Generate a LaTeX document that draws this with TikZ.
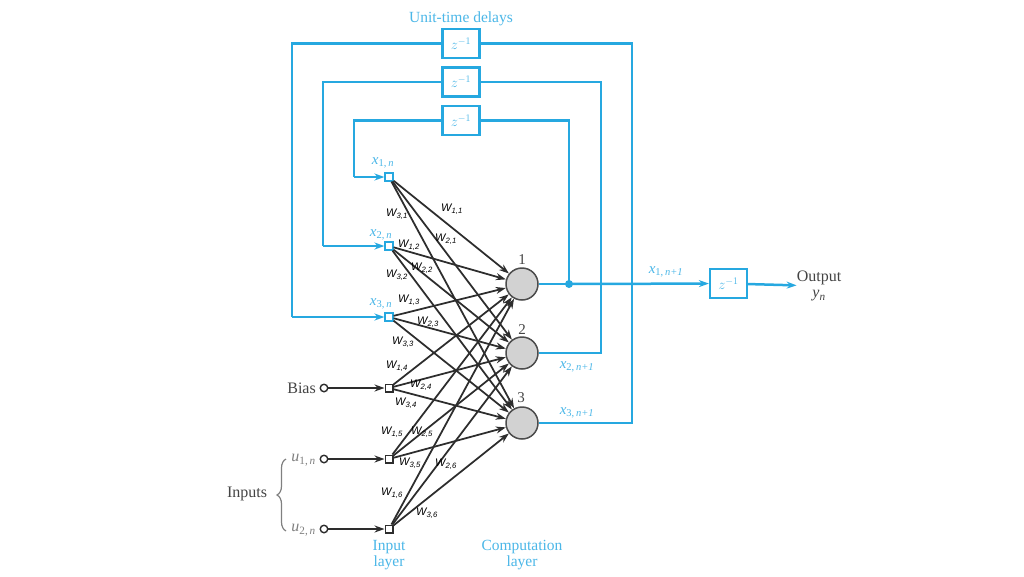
\documentclass[tikz,border=0pt]{standalone}
\usepackage{fontspec}
\setmainfont{Liberation Serif}
\newfontfamily\wfont{Liberation Sans}
\usetikzlibrary{arrows.meta,decorations.pathreplacing,calc}
\definecolor{lblue}{RGB}{38,168,224}
\definecolor{tblue}{RGB}{75,183,232}
\definecolor{dgray}{RGB}{45,45,45}
\definecolor{lgray}{RGB}{68,68,68}
\newcommand\xsub[2]{\textit{x}\textsubscript{#1,\,\textit{#2}}}
\newcommand\wsub[2]{W\textsubscript{#1,#2}}
\begin{document}
\begin{tikzpicture}[x=1pt,y=-1pt,
  bl/.style={draw=lblue,line width=2.5pt},
  blarrow/.style={bl,-{Stealth[length=10pt,width=7pt]}},
  delay/.style={draw=lblue,line width=2.2pt,fill=white,minimum width=37pt,minimum height=29pt,inner sep=0pt,text=tblue,font=\fontsize{14}{14}\selectfont},
  bsq/.style={draw=lblue,line width=1.7pt,fill=white,minimum size=7.5pt,inner sep=0pt},
  ksq/.style={draw=dgray,line width=1.5pt,fill=white,minimum size=7.5pt,inner sep=0pt},
  neuron/.style={circle,draw=gray!60!black,fill=gray!35,line width=1.5pt,minimum size=32pt,inner sep=0pt},
  wire/.style={draw=dgray,line width=1.75pt,-{Stealth[length=10pt,width=7pt]}},
  src/.style={circle,draw=dgray,fill=white,line width=1.4pt,minimum size=7.5pt,inner sep=0pt},
  wl/.style={font=\wfont\itshape\fontsize{11}{11}\selectfont,text=black,inner sep=0pt},
  btxt/.style={text=tblue,font=\fontsize{15.5}{16}\selectfont,align=center,inner sep=0pt},
  xl/.style={text=tblue,font=\fontsize{15}{15}\selectfont,inner sep=0pt},
  ktxt/.style={text=lgray,font=\fontsize{16}{17}\selectfont,align=center,inner sep=0pt},
  numl/.style={text=lgray,font=\fontsize{15}{15}\selectfont,inner sep=0pt}
]
\useasboundingbox (0,0) rectangle (1024,576);
\fill[white] (0,0) rectangle (1024,576);

% delay boxes
\node[btxt] (title) at (461,19) {Unit-time delays};
\node[delay] (d1) at (461,43.5) {$z^{-1}$};
\node[delay] (d2) at (461,82) {$z^{-1}$};
\node[delay] (d3) at (461,120.5) {$z^{-1}$};

% input layer squares
\node[bsq] (x1) at (389,177) {};
\node[bsq] (x2) at (389,246) {};
\node[bsq] (x3) at (389,317) {};
\node[ksq] (xb) at (389,388) {};
\node[ksq] (xu1) at (389,459) {};
\node[ksq] (xu2) at (389,529) {};

% neurons
\node[neuron] (n1) at (522,284) {};
\node[neuron] (n2) at (522,353) {};
\node[neuron] (n3) at (522,423) {};
\node[numl] (l1) at (522,260) {1};
\node[numl] (l2) at (522,330) {2};
\node[numl] (l3) at (521,398) {3};

% connections
\foreach \s in {x1,x2,x3,xb,xu1,xu2}{
  \foreach \t in {n1,n2,n3}{
    \draw[wire] (\s) -- (\t);
  }
}

% feedback loops
\coordinate (c1) at (354,177);
\coordinate (c2) at (323,246);
\coordinate (c3) at (292,317);
\coordinate (j1) at (569,284);
\coordinate (r2) at (601,353);
\coordinate (r3) at (632,423);
\draw[bl] (d3.west) -| (c1);
\draw[blarrow] (c1) -- (x1);
\draw[bl] (d2.west) -| (c2);
\draw[blarrow] (c2) -- (x2);
\draw[bl] (d1.west) -| (c3);
\draw[blarrow] (c3) -- (x3);
\draw[bl] (d3.east) -| (j1);
\draw[bl] (n2.east) -- (r2) |- (d2.east);
\draw[bl] (n3.east) -- (r3) |- (d1.east);
\draw[bl] (n1.east) -- (j1);
\fill[lblue] (j1) circle (4pt);

% output
\node[delay] (od) at (728.5,283.5) {$z^{-1}$};
\node[ktxt] (out) at (819,286) {Output\\[-1pt]\textit{y}\textsubscript{\textit{n}}};
\draw[blarrow] (j1) -- (od);
\draw[blarrow] (od) -- (out);

% blue labels
\node[xl] (lx1) at (383,163) {\xsub{1}{n}};
\node[xl] (lx2) at (381,235) {\xsub{2}{n}};
\node[xl] (lx3) at (381,304) {\xsub{3}{n}};
\node[xl] (ly1) at (666,272) {\xsub{1}{n+1}};
\node[xl] (ly2) at (577,367) {\xsub{2}{n+1}};
\node[xl] (ly3) at (577,413) {\xsub{3}{n+1}};

% bias and inputs
\node[src] (sb) at (324,388) {};
\node[src] (su1) at (324,459) {};
\node[src] (su2) at (324,529) {};
\node[ktxt,anchor=east] (tb) at (316,388) {Bias};
\node[ktxt,anchor=east,text=gray] (tu1) at (316,460) {\textit{u}\textsubscript{1,\,\textit{n}}};
\node[ktxt,anchor=east,text=gray] (tu2) at (316,530) {\textit{u}\textsubscript{2,\,\textit{n}}};
\draw[wire] (sb) -- (xb);
\draw[wire] (su1) -- (xu1);
\draw[wire] (su2) -- (xu2);
\draw[draw=gray,line width=1.2pt,decorate,decoration={brace,amplitude=9pt}] (286,531) -- (286,459);
\node[ktxt] (tin) at (247,494) {Inputs};

% layer labels
\node[btxt] (til) at (389,555) {Input\\layer};
\node[btxt] (tcl) at (522,555) {Computation\\layer};

% weight labels
\node[wl] at (452,209) {\wsub{1}{1}};
\node[wl] at (397,214) {\wsub{3}{1}};
\node[wl] at (446,239) {\wsub{2}{1}};
\node[wl] at (409,245) {\wsub{1}{2}};
\node[wl] at (422,268) {\wsub{2}{2}};
\node[wl] at (397,275) {\wsub{3}{2}};
\node[wl] at (409,300) {\wsub{1}{3}};
\node[wl] at (428,322) {\wsub{2}{3}};
\node[wl] at (403,342) {\wsub{3}{3}};
\node[wl] at (397,366) {\wsub{1}{4}};
\node[wl] at (421,385) {\wsub{2}{4}};
\node[wl] at (406,403) {\wsub{3}{4}};
\node[wl] at (392,432) {\wsub{1}{5}};
\node[wl] at (422,432) {\wsub{2}{5}};
\node[wl] at (410,463) {\wsub{3}{5}};
\node[wl] at (446,464) {\wsub{2}{6}};
\node[wl] at (392,493) {\wsub{1}{6}};
\node[wl] at (427,513) {\wsub{3}{6}};
\end{tikzpicture}
\end{document}
